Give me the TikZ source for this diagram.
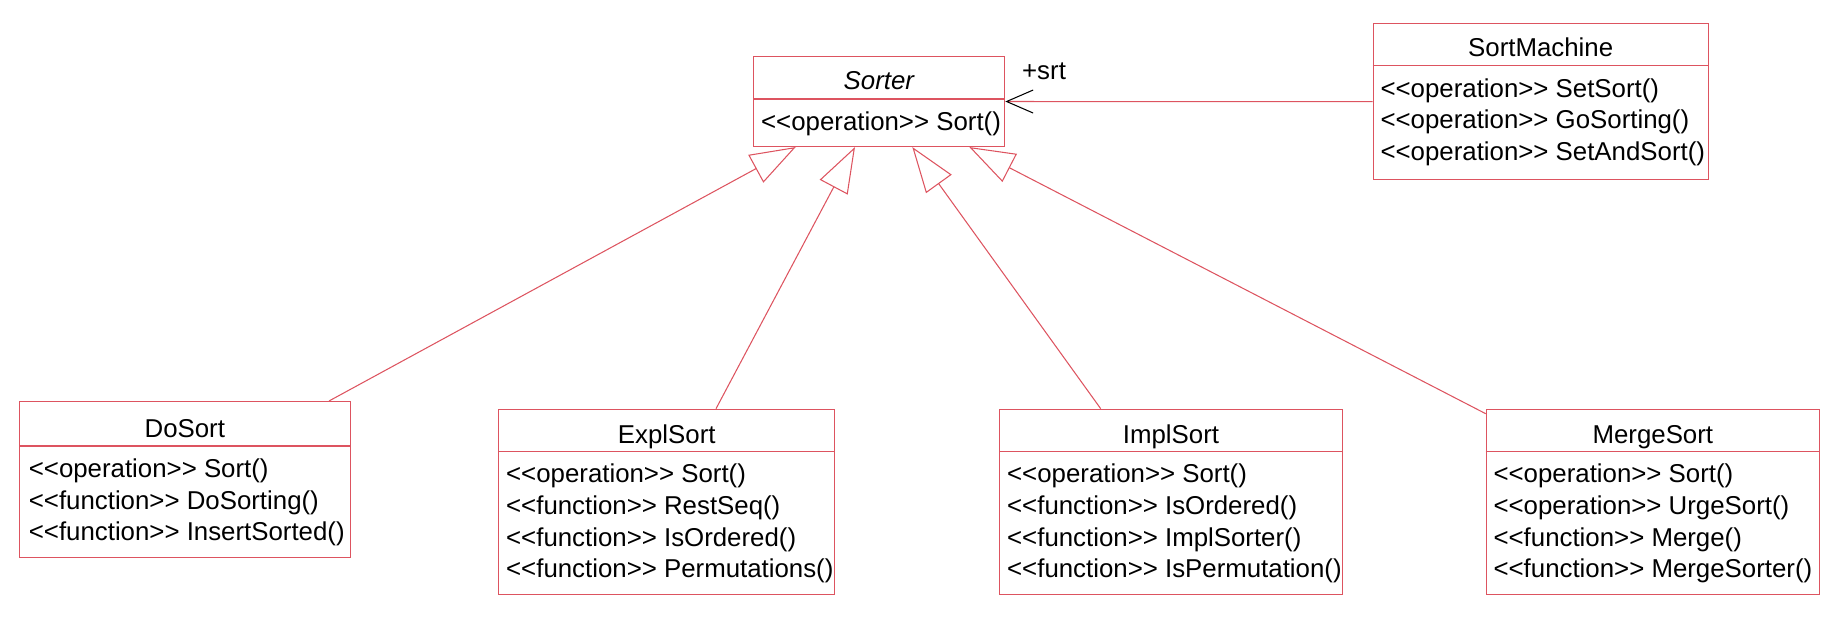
\documentclass[tikz,border=0pt]{standalone}
\usepackage{fontspec}
\setmainfont{Liberation Sans}
\usetikzlibrary{arrows.meta,calc}
\definecolor{umlred}{RGB}{221,84,96}
\newcommand{\stereo}[1]{<\kern0pt<#1>\kern0pt>}

\begin{document}
\begin{tikzpicture}[x=0.02cm, y=-0.02cm,
	every node/.style={font=\fontsize{14.7}{18}\selectfont, inner sep=0pt},
	classbox/.style={draw=umlred, line width=0.6pt, anchor=north west},
	classtitle/.style={anchor=base},
	classbody/.style={anchor=north west, align=left},
	inherit/.style={draw=umlred, line width=0.6pt, -{Triangle[open, length=0.91cm, width=0.63cm]}},
	assoc/.style={draw=umlred, line width=0.6pt, -{Straight Barb[color=black, length=0.53cm, width=0.46cm]}}]
	\useasboundingbox (0,0) rectangle (1836,618);
	% class boxes
	\node[classbox, minimum width=5.02cm, minimum height=1.8cm] (sorter) at (753.3,56) {};
	\node[classbox, minimum width=6.7cm, minimum height=3.114cm] (machine) at (1372.7,23.3) {};
	\node[classbox, minimum width=6.614cm, minimum height=3.114cm] (dosort) at (19,401) {};
	\node[classbox, minimum width=6.72cm, minimum height=3.712cm] (expl) at (498.3,408.7) {};
	\node[classbox, minimum width=6.848cm, minimum height=3.712cm] (impl) at (999.3,408.7) {};
	\node[classbox, minimum width=6.666cm, minimum height=3.712cm] (merge) at (1485.7,408.7) {};
	\foreach \c/\h in {sorter/0.86, machine/0.85, dosort/0.9, expl/0.85, impl/0.85, merge/0.85}
		\draw[umlred, line width=0.6pt] ([yshift=-\h cm]\c.north west) -- ([yshift=-\h cm]\c.north east);
	% names
	\node[classtitle] (sorter-title) at ([yshift=-0.666cm]sorter.north) {\textit{Sorter}};
	\node[classtitle] (machine-title) at ([yshift=-0.668cm]machine.north) {SortMachine};
	\node[classtitle] (dosort-title) at ([yshift=-0.726cm]dosort.north) {DoSort};
	\node[classtitle] (expl-title) at ([yshift=-0.706cm]expl.north) {ExplSort};
	\node[classtitle] (impl-title) at ([yshift=-0.706cm]impl.north) {ImplSort};
	\node[classtitle] (merge-title) at ([yshift=-0.706cm]merge.north) {MergeSort};
	% operations
	\node[classbody] (sorter-ops) at ([xshift=0.15cm, yshift=-1.11cm]sorter.north west) {\stereo{operation} Sort()};
	\node[classbody] (machine-ops) at ([xshift=0.15cm, yshift=-1.1cm]machine.north west) {\stereo{operation} SetSort()\\ \stereo{operation} GoSorting()\\ \stereo{operation} SetAndSort()};
	\node[classbody] (dosort-ops) at ([xshift=0.19cm, yshift=-1.15cm]dosort.north west) {\stereo{operation} Sort()\\ \stereo{function} DoSorting()\\ \stereo{function} InsertSorted()};
	\node[classbody] (expl-ops) at ([xshift=0.15cm, yshift=-1.1cm]expl.north west) {\stereo{operation} Sort()\\ \stereo{function} RestSeq()\\ \stereo{function} IsOrdered()\\ \stereo{function} Permutations()};
	\node[classbody] (impl-ops) at ([xshift=0.15cm, yshift=-1.1cm]impl.north west) {\stereo{operation} Sort()\\ \stereo{function} IsOrdered()\\ \stereo{function} ImplSorter()\\ \stereo{function} IsPermutation()};
	\node[classbody] (merge-ops) at ([xshift=0.15cm, yshift=-1.1cm]merge.north west) {\stereo{operation} Sort()\\ \stereo{operation} UrgeSort()\\ \stereo{function} Merge()\\ \stereo{function} MergeSorter()};
	% attachment points
	\coordinate (dosort-top) at ($(dosort.north west)+(310,0)$);
	\coordinate (expl-top) at ($(expl.north west)+(217.7,0)$);
	\coordinate (impl-top) at ($(impl.north west)+(101.4,0)$);
	\coordinate (merge-top) at ([yshift=-0.1cm]merge.north west);
	\coordinate (sorter-g1) at ($(sorter.south west)+(42.4,0)$);
	\coordinate (sorter-g2) at ($(sorter.south west)+(101.7,0)$);
	\coordinate (sorter-g3) at ($(sorter.south west)+(159,0)$);
	\coordinate (sorter-g4) at ($(sorter.south west)+(216,0)$);
	% connectors
	\draw[inherit] (dosort-top) -- (sorter-g1);
	\draw[inherit] (expl-top) -- (sorter-g2);
	\draw[inherit] (impl-top) -- (sorter-g3);
	\draw[inherit] (merge-top) -- (sorter-g4);
	\draw[assoc] (machine.west) -- (sorter.east);
	\node[anchor=base west] (srt) at ([xshift=0.33cm, yshift=0.44cm]sorter.east) {+srt};
\end{tikzpicture}
\end{document}
